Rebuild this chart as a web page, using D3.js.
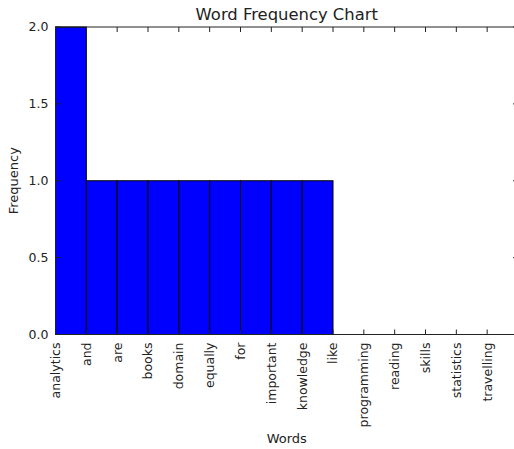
<!DOCTYPE html>
<html>
<head>
<meta charset="utf-8">
<script src="https://cdn.jsdelivr.net/npm/d3@7"></script>
<style>
  html, body { margin: 0; padding: 0; background: #fff; }
  svg { display: block; }
  text { font-family: "DejaVu Sans", sans-serif; fill: #222; }
</style>
</head>
<body>
<svg id="chart" width="514" height="449"></svg>
<script>
const words = ["analytics","and","are","books","domain","equally","for","important","knowledge","like","programming","reading","skills","statistics","travelling"];
const frequencies = [2,1,1,1,1,1,1,1,1,0,0,0,0,0,0];
const yTicks = [0, 0.5, 1.0, 1.5, 2.0];
const chartTitle = "Word Frequency Chart";
const xLabel = "Words";
const yLabel = "Frequency";

(function () {
const pl = 55.5, pr = 518, pt = 27, pb = 334.5;
const svg = d3.select("#chart");

const x = d3.scaleLinear().domain([0, words.length]).range([pl, pr]);
const y = d3.scaleLinear().domain([0, 2]).range([pb, pt]);

// bars
svg.append("g").selectAll("rect").data(words).join("rect")
  .attr("x", (d, i) => x(i))
  .attr("width", (d, i) => x(i + 1) - x(i))
  .attr("y", (d, i) => y(frequencies[i]))
  .attr("height", (d, i) => y(0) - y(frequencies[i]))
  .attr("fill", "#0000ff")
  .attr("stroke", "#000")
  .attr("stroke-width", 1);

const tickLen = 5;
const axisColor = "#222";

// x ticks (bottom and top, inward)
const xt = svg.append("g");
words.forEach((w, i) => {
  const xp = x(i);
  xt.append("line").attr("x1", xp).attr("x2", xp).attr("y1", pb).attr("y2", pb - tickLen)
    .attr("stroke", axisColor);
  xt.append("line").attr("x1", xp).attr("x2", xp).attr("y1", pt).attr("y2", pt + tickLen)
    .attr("stroke", axisColor);
  xt.append("text")
    .attr("transform", `translate(${x(i)},${pb + 8}) rotate(-90)`)
    .attr("text-anchor", "end")
    .attr("dy", "0.35em")
    .attr("font-size", "12.5px")
    .text(w);
});

// y ticks (left and right, inward)
const yt = svg.append("g");
yTicks.forEach(t => {
  const yp = y(t);
  yt.append("line").attr("x1", pl).attr("x2", pl + tickLen).attr("y1", yp).attr("y2", yp)
    .attr("stroke", axisColor);
  yt.append("line").attr("x1", pr).attr("x2", pr - tickLen).attr("y1", yp).attr("y2", yp)
    .attr("stroke", axisColor);
  yt.append("text")
    .attr("x", pl - 7)
    .attr("y", yp)
    .attr("dy", "0.35em")
    .attr("text-anchor", "end")
    .attr("font-size", "12.5px")
    .text(d3.format(".1f")(t));
});

// spines
svg.append("rect")
  .attr("x", pl).attr("y", pt)
  .attr("width", pr - pl).attr("height", pb - pt)
  .attr("fill", "none").attr("stroke", axisColor).attr("stroke-width", 1);

// title and labels
svg.append("text")
  .attr("x", (pl + pr) / 2).attr("y", 20)
  .attr("text-anchor", "middle")
  .attr("font-size", "16.4px")
  .text(chartTitle);

svg.append("text")
  .attr("x", (pl + pr) / 2).attr("y", 443)
  .attr("text-anchor", "middle")
  .attr("font-size", "13px")
  .text(xLabel);

svg.append("text")
  .attr("transform", `translate(18,${(pt + pb) / 2}) rotate(-90)`)
  .attr("text-anchor", "middle")
  .attr("font-size", "13px")
  .text(yLabel);
})();
</script>
</body>
</html>
